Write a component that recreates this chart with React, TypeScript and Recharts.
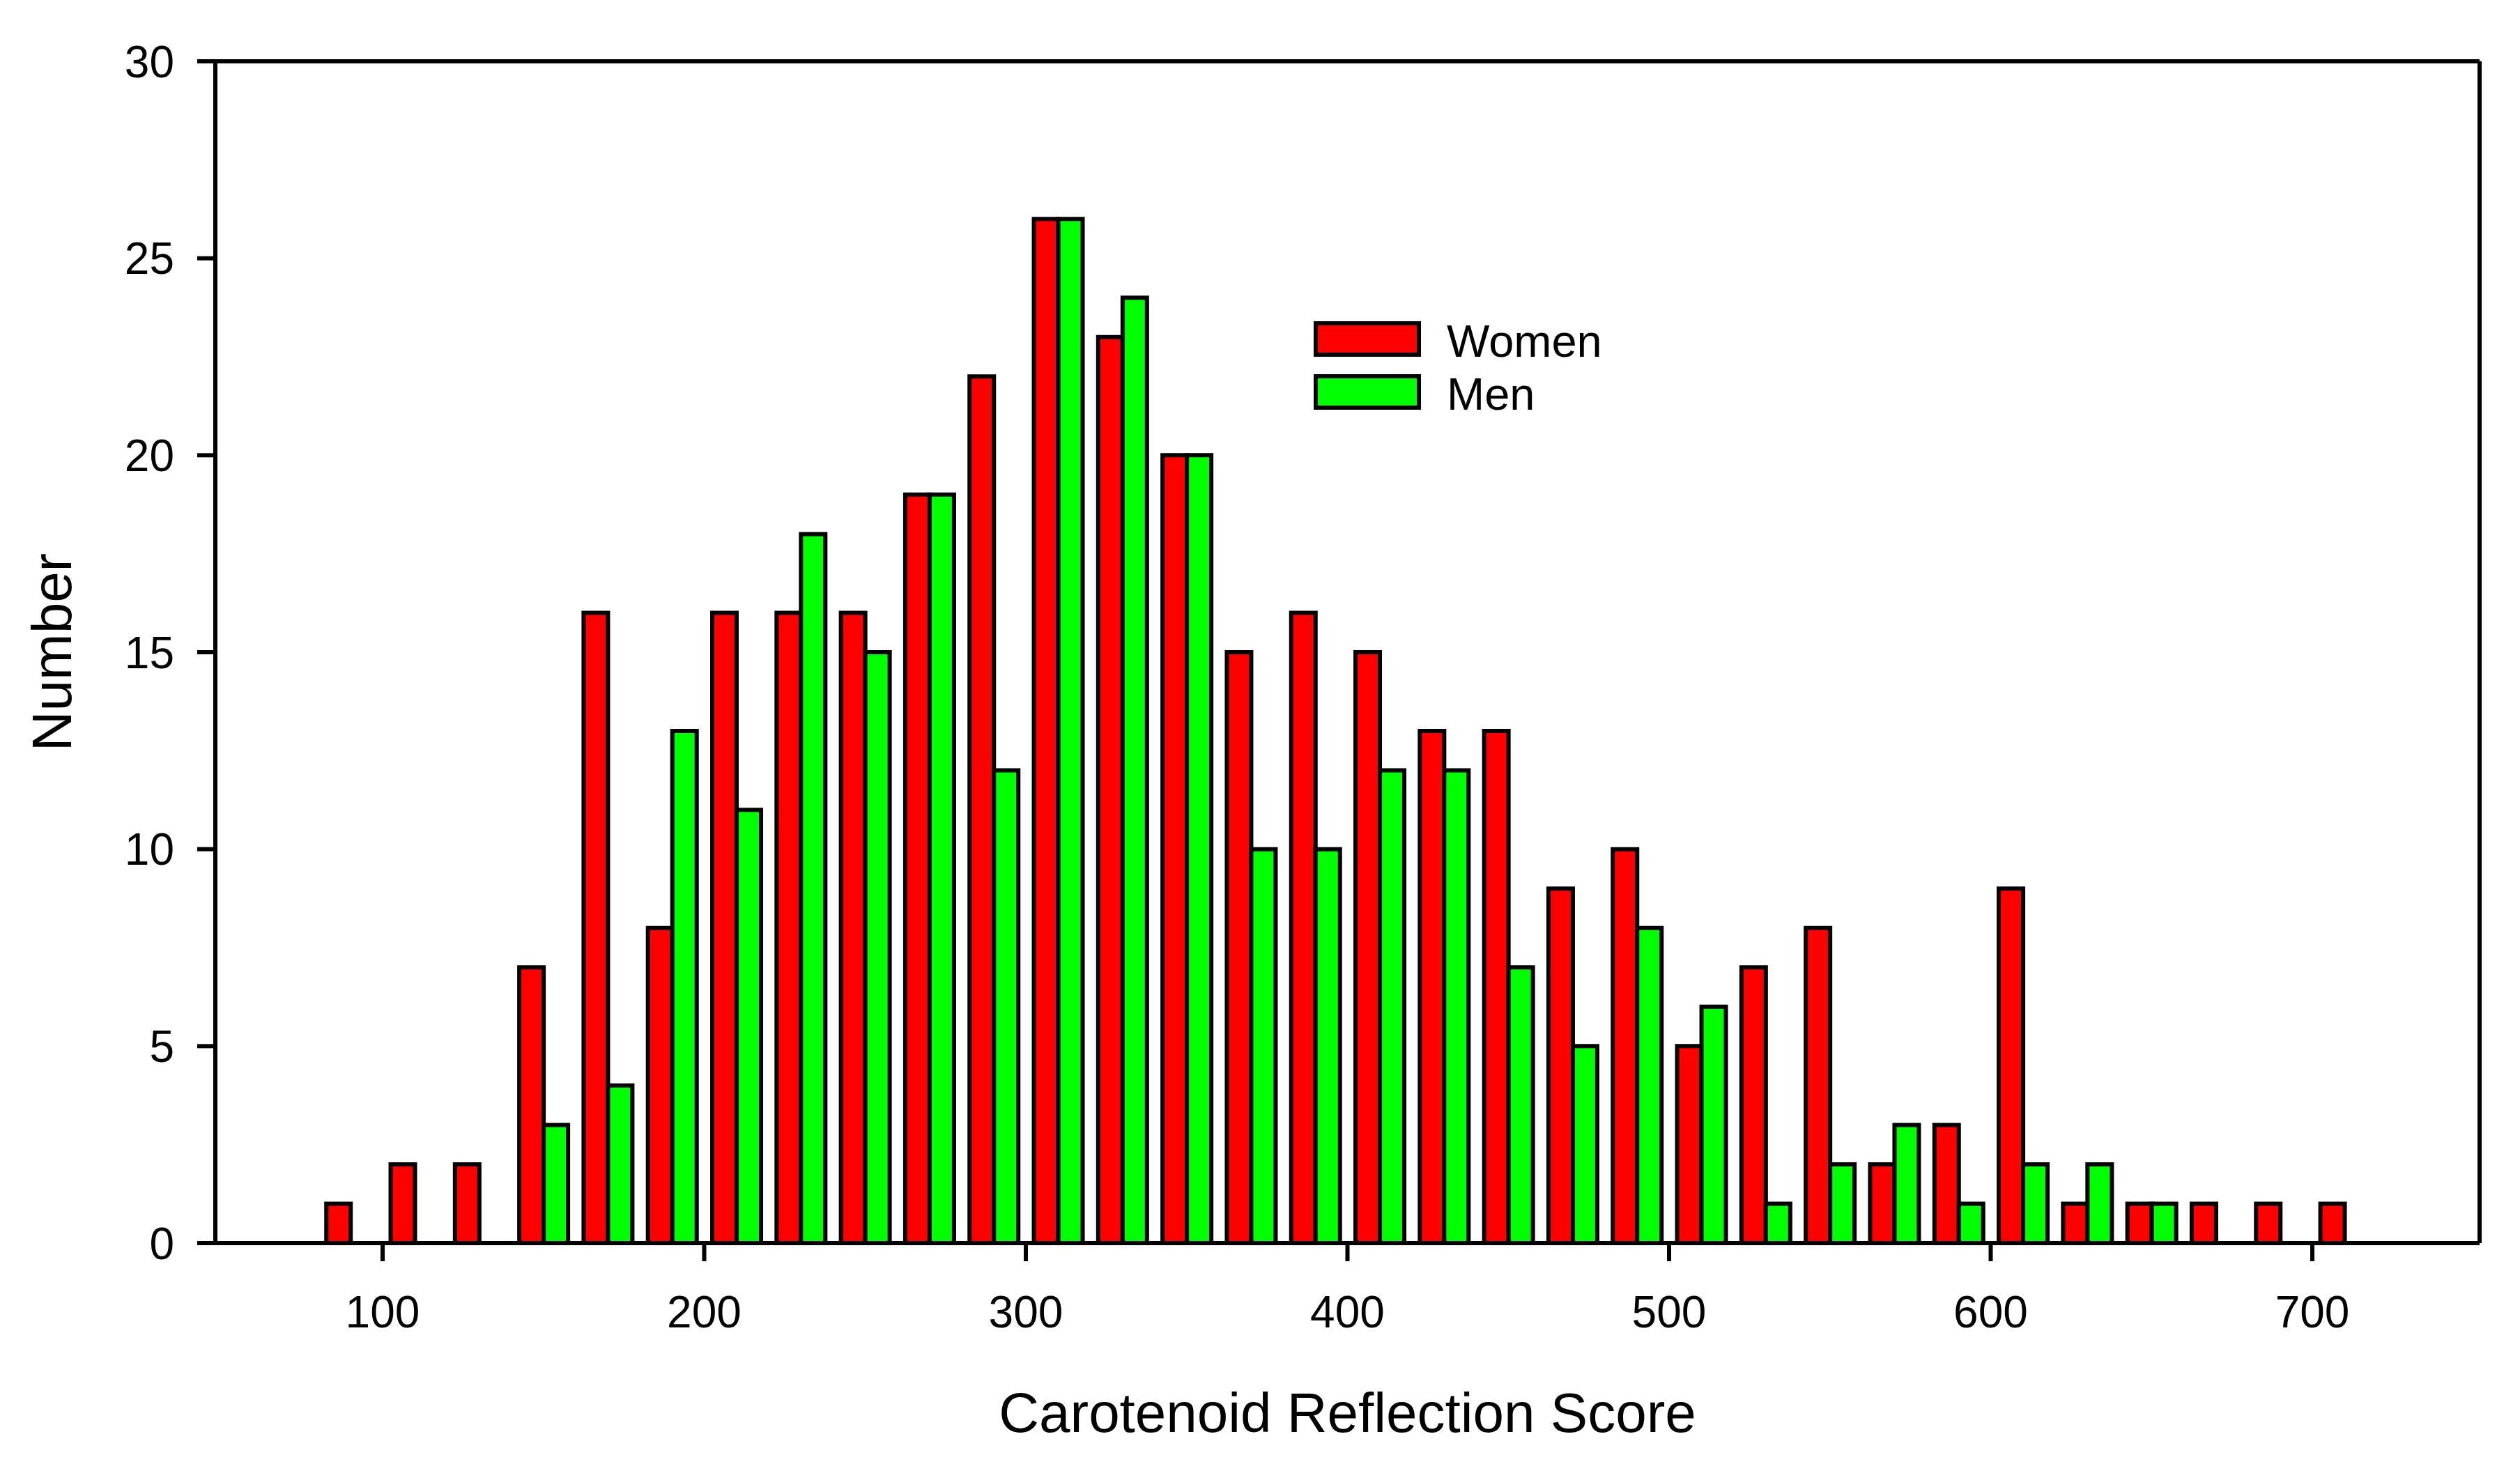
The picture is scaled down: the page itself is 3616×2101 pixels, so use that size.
import React from "react";
import { Bar, BarChart, Legend, ReferenceLine, XAxis, YAxis } from "recharts";

// bin centres of the histogram (score)
const bins = [90, 110, 130, 150, 170, 190, 210, 230, 250, 270, 290, 310, 330, 350, 370, 390, 410, 430, 450, 470, 490, 510, 530, 550, 570, 590, 610, 630, 650, 670, 690, 710];
const women = [1, 2, 2, 7, 16, 8, 16, 16, 16, 19, 22, 26, 23, 20, 15, 16, 15, 13, 13, 9, 10, 5, 7, 8, 2, 3, 9, 1, 1, 1, 1, 1];
const men = [0, 0, 0, 3, 4, 13, 11, 18, 15, 19, 12, 26, 24, 20, 10, 10, 12, 12, 7, 5, 8, 6, 1, 2, 3, 1, 2, 2, 1, 0, 0, 0];

const xTicks = [100, 200, 300, 400, 500, 600, 700];
const yTicks = [0, 5, 10, 15, 20, 25, 30];
const xDomain = [48, 752];
const yDomain = [0, 30];

const seriesNames = ["Women", "Men"];
const seriesColors = ["#ff0000", "#00ff00"];

const FONT = "'Liberation Sans', Arial, Helvetica, sans-serif";

const data = bins.map((score, i) => ({ score, women: women[i], men: men[i] }));

const YTitle = (props: any) => {
  const vb = props.viewBox;
  const x = vb.x + 102;
  const y = vb.y + vb.height / 2;
  return (
    <text x={x} y={y} transform={`rotate(-90 ${x} ${y})`} textAnchor="middle" fontSize={80} fontFamily={FONT} fill="#000">
      Number
    </text>
  );
};

const LegendBox = () => (
  <svg width={640} height={150} style={{ overflow: "visible" }}>
    {seriesNames.map((name, i) => (
      <g key={name}>
        <rect x={3} y={3 + i * 76} width={148} height={45} fill={seriesColors[i]} stroke="#000" strokeWidth={6} />
        <text x={191} y={51 + i * 76} fontSize={65} fontFamily={FONT} fill="#000">
          {name}
        </text>
      </g>
    ))}
  </svg>
);

export default function App() {
  return (
    <div style={{ position: "absolute", left: 0, top: 0, background: "#fff" }}>
      <BarChart
        width={3616}
        height={2101}
        data={data}
        margin={{ top: 88, right: 58, bottom: 0, left: 0 }}
        barGap={0}
        barCategoryGap="12.5%"
        style={{ fontFamily: FONT }}
      >
        <XAxis
          dataKey="score"
          type="number"
          domain={xDomain}
          ticks={xTicks}
          allowDataOverflow
          height={317}
          stroke="#000"
          strokeWidth={6}
          tickSize={26}
          tickMargin={50}
          tick={{ fontSize: 64, fill: "#000", fontFamily: FONT }}
          label={{ value: "Carotenoid Reflection Score", position: "insideBottom", offset: 46, fontSize: 80, fill: "#000", fontFamily: FONT }}
        />
        <YAxis
          type="number"
          domain={yDomain}
          ticks={yTicks}
          width={309}
          stroke="#000"
          strokeWidth={6}
          tickSize={26}
          tickMargin={33}
          tick={{ fontSize: 64, fill: "#000", fontFamily: FONT }}
          label={<YTitle />}
        />
        <ReferenceLine y={yDomain[1]} stroke="#000" strokeWidth={6} />
        <ReferenceLine x={xDomain[1]} stroke="#000" strokeWidth={6} />
        <Legend
          layout="vertical"
          align="center"
          verticalAlign="middle"
          content={<LegendBox />}
          wrapperStyle={{ left: 1885, top: 461, width: 640, height: 150 }}
        />
        <Bar dataKey="women" name="Women" fill={seriesColors[0]} stroke="#000" strokeWidth={6} isAnimationActive={false} />
        <Bar dataKey="men" name="Men" fill={seriesColors[1]} stroke="#000" strokeWidth={6} isAnimationActive={false} />
      </BarChart>
    </div>
  );
}
